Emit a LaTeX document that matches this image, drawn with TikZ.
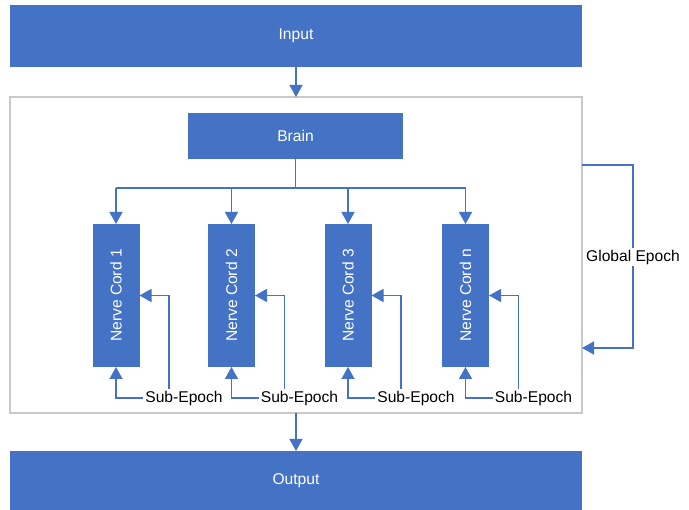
\documentclass[tikz,border=0pt]{standalone}
\usepackage{fontspec}
\usepackage{graphicx}
\setmainfont{Liberation Sans}
\usetikzlibrary{arrows.meta}
\definecolor{blu}{HTML}{4472C4}
\definecolor{frm}{HTML}{C9C9C9}
\begin{document}
\begin{tikzpicture}[x=1pt,y=-1pt,
  box/.style={fill=blu, draw=none, text=white, font=\fontsize{15.6}{18}\selectfont, inner sep=0, outer sep=0},
  cord/.style={box, minimum width=47pt, minimum height=143pt},
  con/.style={draw=blu, line width=1.4pt, -{Triangle[width=13pt,length=12pt]}},
  plain/.style={draw=blu, line width=1.4pt},
  lbl/.style={font=\fontsize{15.6}{18}\selectfont, inner sep=2pt, fill=white}]
\useasboundingbox (0,0) rectangle (689,510);
\node[box, minimum width=572pt, minimum height=62pt] (in) at (296,36) {Input};
\node[draw=frm, line width=1.2pt, minimum width=572pt, minimum height=316pt, inner sep=0, outer sep=0] (frame) at (296,255) {};
\node[box, minimum width=215pt, minimum height=46pt] (brain) at (295.5,136) {Brain};
\node[box, minimum width=572pt, minimum height=60pt] (out) at (296,481) {Output};
\draw[con] (in.south) -- (frame.north);
\draw[con] (frame.south) -- (out.north);
% cords
\node[cord] (c1) at (116,295.5) {\rotatebox{90}{Nerve Cord 1}};
\node[cord] (c2) at (231.5,295.5) {\rotatebox{90}{Nerve Cord 2}};
\node[cord] (c3) at (348,295.5) {\rotatebox{90}{Nerve Cord 3}};
\node[cord] (c4) at (465.5,295.5) {\rotatebox{90}{Nerve Cord n}};
% bus
\coordinate (bus) at (295.5,188);
\draw[plain] (brain.south) -- (bus);
\draw[plain] (c1.north |- bus) -- (c4.north |- bus);
\foreach \c in {c1,c2,c3,c4} {\draw[con] (\c.north |- bus) -- (\c.north);}
% sub-epochs
\foreach \c/\s in {c1/s1,c2/s2,c3/s3,c4/s4} {
  \node[lbl] (\s) at ([xshift=68pt]\c.center |- 0,398) {Sub-Epoch};
  \draw[con] (\s.west) -| (\c.south);
  \draw[con] ([xshift=-15pt]\s.north) |- (\c.east);
}
% global epoch
\coordinate (g1) at (633,165);
\coordinate (g2) at (633,348);
\draw[con] (frame.east |- g1) -- (g1) -- (g2) -- (frame.east |- g2);
\node[lbl] (ge) at (633,257) {Global Epoch};
\end{tikzpicture}
\end{document}
